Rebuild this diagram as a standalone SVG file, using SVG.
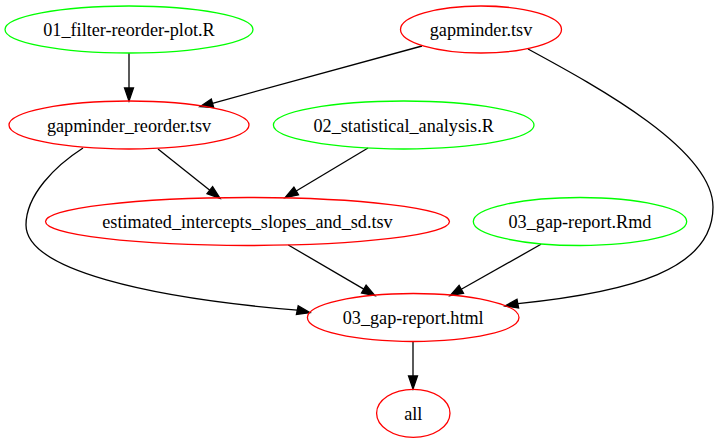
<svg xmlns="http://www.w3.org/2000/svg" width="720" height="443" viewBox="0 0 720 443">
<style>
.n ellipse{fill:none;stroke-width:1.3}
.r ellipse{stroke:#ff0000}
.g ellipse{stroke:#00ff00}
.n text{font-family:"Liberation Serif","Times New Roman",serif;font-size:18.2px;text-anchor:middle;fill:#000}
.e path{fill:none;stroke:#000;stroke-width:1.3}
.e polygon{fill:#000;stroke:#000;stroke-width:1.3}
</style>
<rect width="720" height="443" fill="#fff"/>
<g id="edges" class="e">
<path d="M129,53 L129,88"/>
<polygon points="129,101 124.5,88 133.5,88"/>
<path d="M422,46 L212.5,103.3"/>
<polygon points="200,106.7 213.7,107.6 211.3,99"/>
<path d="M528,49 C600,88 713,150 713,207 C713,270 630,292 518,303.6"/>
<polygon points="505,306 518.6,308 517,299.2"/>
<path d="M158,149 L209.8,190.2"/>
<polygon points="220,198.3 207,193.7 212.6,186.7"/>
<path d="M368,148 L296.2,191"/>
<polygon points="285,197.7 298.5,194.9 293.9,187.1"/>
<path d="M83,148 C55,166 26,195 26,225 C26,270 150,298 297.3,310.1"/>
<polygon points="310,312.7 296.4,314.5 298.2,305.7"/>
<path d="M288.3,245 L363.8,289.1"/>
<polygon points="375,295.7 361.5,293 366.1,285.2"/>
<path d="M541,244.3 L461.3,289.3"/>
<polygon points="450,295.7 463.5,293.2 459.1,285.4"/>
<path d="M413,342 L413,376"/>
<polygon points="413,389 408.5,376 417.5,376"/>
</g>
<g id="n01_filter" class="n g"><ellipse cx="129" cy="29.5" rx="124" ry="23.5"/><text x="129" y="36">01_filter-reorder-plot.R</text></g>
<g id="gapminder_tsv" class="n r"><ellipse cx="481" cy="29.5" rx="80.5" ry="23.5"/><text x="481" y="36">gapminder.tsv</text></g>
<g id="gapminder_reorder" class="n r"><ellipse cx="129" cy="125" rx="120" ry="24"/><text x="129" y="131.5">gapminder_reorder.tsv</text></g>
<g id="n02_stat" class="n g"><ellipse cx="403.7" cy="125" rx="130.3" ry="24"/><text x="403.7" y="131.5">02_statistical_analysis.R</text></g>
<g id="estimated" class="n r"><ellipse cx="247.5" cy="221.5" rx="202" ry="24"/><text x="247.5" y="228">estimated_intercepts_slopes_and_sd.tsv</text></g>
<g id="n03_rmd" class="n g"><ellipse cx="580" cy="221.5" rx="106.7" ry="24"/><text x="580" y="228">03_gap-report.Rmd</text></g>
<g id="n03_html" class="n r"><ellipse cx="413.2" cy="317.5" rx="105.8" ry="24"/><text x="413.2" y="324">03_gap-report.html</text></g>
<g id="all" class="n r"><ellipse cx="413.3" cy="413.3" rx="36.7" ry="24"/><text x="413.3" y="419.8">all</text></g>
</svg>
